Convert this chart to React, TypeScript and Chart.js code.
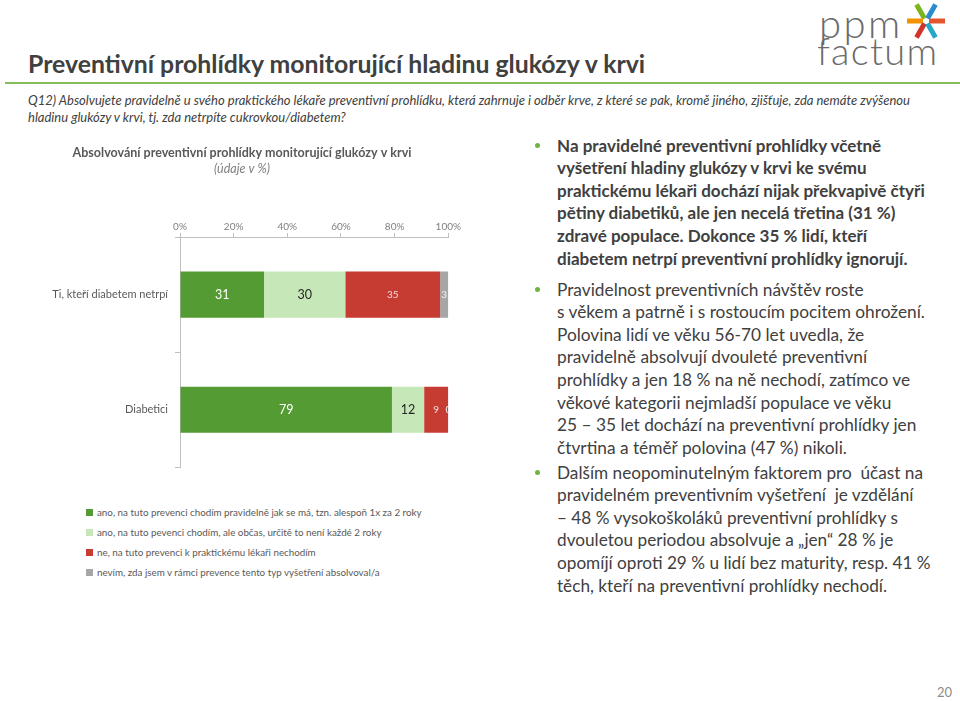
import React, { useEffect, useRef } from "react";
import { Chart, registerables } from "chart.js";

Chart.register(...registerables);

const categories = ["Ti, kteří diabetem netrpí", "Diabetici"];
const seriesLabels = [
  "ano, na tuto prevenci chodím pravidelně jak se má, tzn. alespoň 1x za 2 roky",
  "ano, na tuto pevenci chodím, ale občas, určitě to není každé 2 roky",
  "ne, na tuto prevenci k praktickému lékaři nechodím",
  "nevím, zda jsem v rámci prevence tento typ vyšetření absolvoval/a",
];
const regularValues = [31, 79];
const occasionalValues = [30, 12];
const neverValues = [35, 9];
const dontKnowValues = [3, 0];
const xTickValues = [0, 20, 40, 60, 80, 100];

const seriesColors = ["#559b33", "#c6e7b7", "#c63c33", "#a6a6a6"];
const labelColors = ["#ffffff", "#262626", "#f6dcdb", "#f2f2f2"];
const labelSizes = [12.5, 12.5, 10, 10];

const FONT = "Lato, 'Open Sans', sans-serif";

const allSeries = [regularValues, occasionalValues, neverValues, dontKnowValues];

const valueLabelPlugin = {
  id: "valueLabels",
  afterDatasetsDraw(chart: any) {
    const { ctx, chartArea } = chart;
    ctx.save();
    ctx.beginPath();
    ctx.rect(chartArea.left, chartArea.top, chartArea.right - chartArea.left, chartArea.bottom - chartArea.top);
    ctx.clip();
    chart.data.datasets.forEach((ds: any, di: number) => {
      const meta = chart.getDatasetMeta(di);
      meta.data.forEach((el: any, i: number) => {
        const raw = ds.rawValues[i];
        const cx = (el.x + el.base) / 2;
        ctx.font = `${labelSizes[di]}px ${FONT}`;
        ctx.fillStyle = labelColors[di];
        ctx.textAlign = "center";
        ctx.textBaseline = "middle";
        ctx.fillText(String(raw), cx, el.y);
      });
    });
    ctx.restore();
  },
};

function BarChart() {
  const ref = useRef<HTMLCanvasElement | null>(null);
  useEffect(() => {
    if (!ref.current) return;
    const totals = categories.map((_, i) => allSeries.reduce((s, arr) => s + arr[i], 0));
    const chart = new Chart(ref.current, {
      type: "bar",
      data: {
        labels: categories,
        datasets: allSeries.map((arr, di) => ({
          label: seriesLabels[di],
          data: arr.map((v, i) => (v / totals[i]) * 100),
          rawValues: arr,
          backgroundColor: seriesColors[di],
          borderWidth: 0,
          barPercentage: 0.8,
          categoryPercentage: 0.5,
        })) as any,
      },
      options: {
        indexAxis: "y",
        animation: false,
        responsive: true,
        maintainAspectRatio: false,
        layout: { padding: { left: 0, right: 7, top: 0, bottom: 8 } },
        plugins: {
          legend: { display: false },
          tooltip: { enabled: false },
          title: {
            display: true,
            text: "Absolvování preventivní prohlídky monitorující glukózy v krvi",
            color: "#595959",
            font: { family: FONT, size: 12.5, weight: "bold" },
            padding: { top: 9, bottom: 1 },
          },
          subtitle: {
            display: true,
            text: "(údaje v %)",
            color: "#7f7f7f",
            font: { family: FONT, size: 12.5, style: "italic" },
            padding: { top: 0, bottom: 45 },
          },
        },
        scales: {
          x: {
            position: "top",
            stacked: true,
            min: 0,
            max: 100,
            afterBuildTicks(scale: any) {
              scale.ticks = xTickValues.map((v) => ({ value: v }));
            },
            ticks: {
              color: "#7f7f7f",
              font: { family: FONT, size: 10 },
              padding: 0,
              callback: (v: any) => `${v}%`,
            },
            grid: { drawOnChartArea: false, tickLength: 4, color: "#bfbfbf" },
            border: { color: "#bfbfbf" },
          },
          y: {
            stacked: true,
            afterFit(scale: any) {
              scale.width = 150;
            },
            ticks: {
              color: "#595959",
              font: { family: FONT, size: 11 },
              padding: 7,
            },
            grid: { drawOnChartArea: false, tickLength: 5, color: "#bfbfbf" },
            border: { color: "#bfbfbf" },
          },
        },
      } as any,
      plugins: [valueLabelPlugin],
    });
    return () => chart.destroy();
  }, []);
  return (
    <div style={{ position: "absolute", left: 30, top: 136, width: 431, height: 345 }}>
      <canvas ref={ref} />
    </div>
  );
}

const para1 = [
  "Na pravidelné preventivní prohlídky včetně",
  "vyšetření hladiny glukózy v krvi ke svému",
  "praktickému lékaři dochází nijak překvapivě čtyři",
  "pětiny diabetiků, ale jen necelá třetina (31 %)",
  "zdravé populace. Dokonce 35 % lidí, kteří",
  "diabetem netrpí preventivní prohlídky ignorují.",
];
const para2 = [
  "Pravidelnost preventivních návštěv roste",
  "s věkem a patrně i s rostoucím pocitem ohrožení.",
  "Polovina lidí ve věku 56-70 let uvedla, že",
  "pravidelně absolvují dvouleté preventivní",
  "prohlídky a jen 18 % na ně nechodí, zatímco ve",
  "věkové kategorii nejmladší populace ve věku",
  "25 – 35 let dochází na preventivní prohlídky jen",
  "čtvrtina a téměř polovina (47 %) nikoli.",
];
const para3 = [
  "Dalším neopominutelným faktorem pro  účast na",
  "pravidelném preventivním vyšetření  je vzdělání",
  "– 48 % vysokoškoláků preventivní prohlídky s",
  "dvouletou periodou absolvuje a „jen“ 28 % je",
  "opomíjí oproti 29 % u lidí bez maturity, resp. 41 %",
  "těch, kteří na preventivní prohlídky nechodí.",
];

function Para({ lines, top, bold, size }: { lines: string[]; top: number; bold?: boolean; size: number }) {
  return (
    <>
      <div
        style={{
          position: "absolute",
          left: 535,
          top: top - 3,
          width: 5,
          height: 5,
          borderRadius: 3,
          background: "#6fb43f",
        }}
      />
      <div
        style={{
          position: "absolute",
          left: 557,
          top: top - 11.3,
          fontSize: size,
          lineHeight: "22.6px",
          fontWeight: bold ? 700 : 400,
          color: "#404040",
          whiteSpace: "pre",
        }}
      >
        {lines.map((l, i) => (
          <div key={i}>{l}</div>
        ))}
      </div>
    </>
  );
}

function Logo() {
  const arms = [
    { a: -60, c: "#2b8ccf" },
    { a: -120, c: "#7ab51d" },
    { a: 180, c: "#f39200" },
    { a: 120, c: "#d2342a" },
    { a: 60, c: "#26a7c9" },
    { a: 0, c: "#e4572e" },
  ];
  return (
    <>
      <div
        style={{
          position: "absolute",
          left: 819,
          top: -1,
          fontSize: 40,
          fontWeight: 300,
          color: "#6b6b6b",
          letterSpacing: 2.5,
        }}
      >
        ppm
      </div>
      <div
        style={{
          position: "absolute",
          left: 817,
          top: 27,
          fontSize: 38,
          fontWeight: 300,
          color: "#6b6b6b",
          letterSpacing: 1.3,
        }}
      >
        factum
      </div>
      <svg style={{ position: "absolute", left: 904, top: 1 }} width={44} height={42}>
        {arms.map((arm, i) => {
          const r = (arm.a * Math.PI) / 180;
          return (
            <line
              key={i}
              x1={22 + Math.cos(r) * 3}
              y1={20 + Math.sin(r) * 3}
              x2={22 + Math.cos(r) * 19}
              y2={20 + Math.sin(r) * 19}
              stroke={arm.c}
              strokeWidth={5}
              strokeLinecap="butt"
            />
          );
        })}
      </svg>
    </>
  );
}

export default function App() {
  return (
    <div
      style={{
        position: "relative",
        width: 960,
        height: 701,
        overflow: "hidden",
        background: "#fff",
        fontFamily: FONT,
      }}
    >
      <style>{"body{margin:0}"}</style>
      <Logo />
      <div
        style={{
          position: "absolute",
          left: 28,
          top: 49,
          fontSize: 24.8,
          lineHeight: "30px",
          fontWeight: 700,
          color: "#404040",
          whiteSpace: "nowrap",
        }}
      >
        Preventivní prohlídky monitorující hladinu glukózy v krvi
      </div>
      <div style={{ position: "absolute", left: 5, right: 0, top: 82, height: 2, background: "#86bd5b" }} />
      <div
        style={{
          position: "absolute",
          left: 28,
          top: 91.5,
          fontSize: 13,
          lineHeight: "17px",
          fontStyle: "italic",
          color: "#404040",
          whiteSpace: "nowrap",
        }}
      >
        <div>
          Q12) Absolvujete pravidelně u svého praktického lékaře preventivní prohlídku, která zahrnuje i odběr krve, z které se pak, kromě jiného, zjišťuje, zda nemáte zvýšenou
        </div>
        <div>hladinu glukózy v krvi, tj. zda netrpíte cukrovkou/diabetem?</div>
      </div>
      <BarChart />
      <div style={{ position: "absolute", left: 86, top: 502 }}>
        {seriesLabels.map((l, i) => (
          <div key={i} style={{ display: "flex", alignItems: "center", height: 20, whiteSpace: "nowrap" }}>
            <span style={{ width: 7, height: 7, background: seriesColors[i], marginRight: 4, display: "inline-block" }} />
            <span style={{ fontSize: 9.8, color: "#595959" }}>{l}</span>
          </div>
        ))}
      </div>
      <Para lines={para1} top={146} bold size={17} />
      <Para lines={para2} top={290} size={17.3} />
      <Para lines={para3} top={473} size={17.2} />
      <div style={{ position: "absolute", left: 937, top: 684, fontSize: 13, color: "#8c8c8c" }}>20</div>
    </div>
  );
}
